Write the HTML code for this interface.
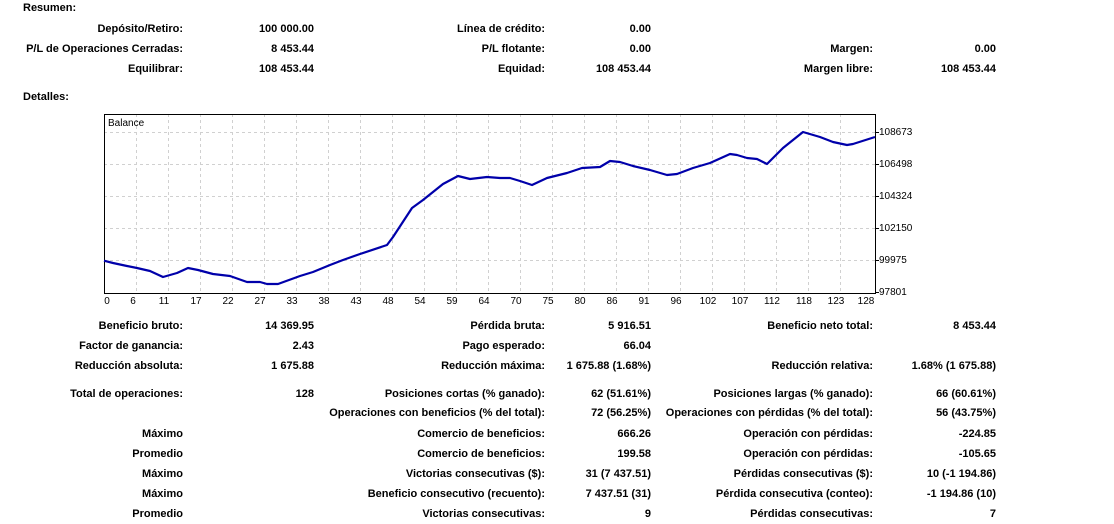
<!DOCTYPE html>
<html><head><meta charset="utf-8"><style>
body{margin:0;width:1114px;height:524px;background:#fff;position:relative;overflow:hidden;font-family:"Liberation Sans",Tahoma,sans-serif;font-weight:bold;font-size:11px;color:#000}
.t{position:absolute;white-space:nowrap;line-height:13px}
svg{position:absolute;left:0;top:0}
svg text{font-family:"Liberation Sans",sans-serif;font-size:10px;font-weight:normal}
</style></head><body>
<div class="t" style="left:23px;top:2px">Resumen:</div>
<div class="t" style="left:23px;top:91px">Detalles:</div>

<div class="t" style="right:931px;top:23px">Depósito/Retiro:</div>
<div class="t" style="right:800px;top:23px">100 000.00</div>
<div class="t" style="right:569px;top:23px">Línea de crédito:</div>
<div class="t" style="right:463px;top:23px">0.00</div>

<div class="t" style="right:931px;top:43px">P/L de Operaciones Cerradas:</div>
<div class="t" style="right:800px;top:43px">8 453.44</div>
<div class="t" style="right:569px;top:43px">P/L flotante:</div>
<div class="t" style="right:463px;top:43px">0.00</div>
<div class="t" style="right:241px;top:43px">Margen:</div>
<div class="t" style="right:118px;top:43px">0.00</div>

<div class="t" style="right:931px;top:63px">Equilibrar:</div>
<div class="t" style="right:800px;top:63px">108 453.44</div>
<div class="t" style="right:569px;top:63px">Equidad:</div>
<div class="t" style="right:463px;top:63px">108 453.44</div>
<div class="t" style="right:241px;top:63px">Margen libre:</div>
<div class="t" style="right:118px;top:63px">108 453.44</div>

<svg width="1114" height="524">
<g stroke="#d0d0d0" stroke-dasharray="3,3" stroke-width="1">
<line x1="104" y1="132.5" x2="875" y2="132.5"/><line x1="104" y1="164.5" x2="875" y2="164.5"/><line x1="104" y1="196.5" x2="875" y2="196.5"/><line x1="104" y1="228.5" x2="875" y2="228.5"/><line x1="104" y1="260.5" x2="875" y2="260.5"/>
<line x1="136.5" y1="114" x2="136.5" y2="293"/><line x1="168.5" y1="114" x2="168.5" y2="293"/><line x1="200.5" y1="114" x2="200.5" y2="293"/><line x1="232.5" y1="114" x2="232.5" y2="293"/><line x1="264.5" y1="114" x2="264.5" y2="293"/><line x1="296.5" y1="114" x2="296.5" y2="293"/><line x1="328.5" y1="114" x2="328.5" y2="293"/><line x1="360.5" y1="114" x2="360.5" y2="293"/><line x1="392.5" y1="114" x2="392.5" y2="293"/><line x1="424.5" y1="114" x2="424.5" y2="293"/><line x1="456.5" y1="114" x2="456.5" y2="293"/><line x1="488.5" y1="114" x2="488.5" y2="293"/><line x1="520.5" y1="114" x2="520.5" y2="293"/><line x1="552.5" y1="114" x2="552.5" y2="293"/><line x1="584.5" y1="114" x2="584.5" y2="293"/><line x1="616.5" y1="114" x2="616.5" y2="293"/><line x1="648.5" y1="114" x2="648.5" y2="293"/><line x1="680.5" y1="114" x2="680.5" y2="293"/><line x1="712.5" y1="114" x2="712.5" y2="293"/><line x1="744.5" y1="114" x2="744.5" y2="293"/><line x1="776.5" y1="114" x2="776.5" y2="293"/><line x1="808.5" y1="114" x2="808.5" y2="293"/><line x1="840.5" y1="114" x2="840.5" y2="293"/>
</g>
<rect x="104.5" y="114.5" width="771" height="179" fill="none" stroke="#000"/>
<g stroke="#000"><line x1="875" y1="132.5" x2="879" y2="132.5"/><line x1="875" y1="164.5" x2="879" y2="164.5"/><line x1="875" y1="196.5" x2="879" y2="196.5"/><line x1="875" y1="228.5" x2="879" y2="228.5"/><line x1="875" y1="260.5" x2="879" y2="260.5"/><line x1="875" y1="292.5" x2="879" y2="292.5"/></g>
<text x="108" y="126">Balance</text>
<polyline fill="none" stroke="#0000aa" stroke-width="2.2" stroke-linejoin="round" points="104,260.7 113,263 127,266 137,268 150,271 163,277 177,273 188,268 198,270 213,274 230,276 247,282 260,282 267,284 278,284 300,276 313,272 330,265 343,260 360,254 387,245 393,237 412,208 423,200 433,192 443,184 458,176 470,179 487,177 500,178 510,178 520,181 532,185 547,178 567,173 582,168 600,167 610,161 620,162 633,166 650,170 667,175 677,174 693,168 710,163 730,154 737,155 747,158 757,159 767,164 783,148 803,132 820,137 833,142 847,145 853,144 875,137"/>
<g>
<text x="879" y="135">108673</text><text x="879" y="167">106498</text><text x="879" y="199">104324</text><text x="879" y="231">102150</text><text x="879" y="263">99975</text><text x="879" y="295">97801</text>
</g>
<g text-anchor="middle">
<text x="107" y="304">0</text><text x="133" y="304">6</text><text x="164" y="304">11</text><text x="196" y="304">17</text><text x="228" y="304">22</text><text x="260" y="304">27</text><text x="292" y="304">33</text><text x="324" y="304">38</text><text x="356" y="304">43</text><text x="388" y="304">48</text><text x="420" y="304">54</text><text x="452" y="304">59</text><text x="484" y="304">64</text><text x="516" y="304">70</text><text x="548" y="304">75</text><text x="580" y="304">80</text><text x="612" y="304">86</text><text x="644" y="304">91</text><text x="676" y="304">96</text><text x="708" y="304">102</text><text x="740" y="304">107</text><text x="772" y="304">112</text><text x="804" y="304">118</text><text x="836" y="304">123</text><text x="866" y="304">128</text>
</g>
</svg>

<div class="t" style="right:931px;top:320px">Beneficio bruto:</div>
<div class="t" style="right:800px;top:320px">14 369.95</div>
<div class="t" style="right:569px;top:320px">Pérdida bruta:</div>
<div class="t" style="right:463px;top:320px">5 916.51</div>
<div class="t" style="right:241px;top:320px">Beneficio neto total:</div>
<div class="t" style="right:118px;top:320px">8 453.44</div>

<div class="t" style="right:931px;top:340px">Factor de ganancia:</div>
<div class="t" style="right:800px;top:340px">2.43</div>
<div class="t" style="right:569px;top:340px">Pago esperado:</div>
<div class="t" style="right:463px;top:340px">66.04</div>

<div class="t" style="right:931px;top:360px">Reducción absoluta:</div>
<div class="t" style="right:800px;top:360px">1 675.88</div>
<div class="t" style="right:569px;top:360px">Reducción máxima:</div>
<div class="t" style="right:463px;top:360px">1 675.88 (1.68%)</div>
<div class="t" style="right:241px;top:360px">Reducción relativa:</div>
<div class="t" style="right:118px;top:360px">1.68% (1 675.88)</div>

<div class="t" style="right:931px;top:388px">Total de operaciones:</div>
<div class="t" style="right:800px;top:388px">128</div>
<div class="t" style="right:569px;top:388px">Posiciones cortas (% ganado):</div>
<div class="t" style="right:463px;top:388px">62 (51.61%)</div>
<div class="t" style="right:241px;top:388px">Posiciones largas (% ganado):</div>
<div class="t" style="right:118px;top:388px">66 (60.61%)</div>

<div class="t" style="right:569px;top:407px">Operaciones con beneficios (% del total):</div>
<div class="t" style="right:463px;top:407px">72 (56.25%)</div>
<div class="t" style="right:241px;top:407px">Operaciones con pérdidas (% del total):</div>
<div class="t" style="right:118px;top:407px">56 (43.75%)</div>

<div class="t" style="right:931px;top:428px">Máximo</div>
<div class="t" style="right:569px;top:428px">Comercio de beneficios:</div>
<div class="t" style="right:463px;top:428px">666.26</div>
<div class="t" style="right:241px;top:428px">Operación con pérdidas:</div>
<div class="t" style="right:118px;top:428px">-224.85</div>

<div class="t" style="right:931px;top:448px">Promedio</div>
<div class="t" style="right:569px;top:448px">Comercio de beneficios:</div>
<div class="t" style="right:463px;top:448px">199.58</div>
<div class="t" style="right:241px;top:448px">Operación con pérdidas:</div>
<div class="t" style="right:118px;top:448px">-105.65</div>

<div class="t" style="right:931px;top:468px">Máximo</div>
<div class="t" style="right:569px;top:468px">Victorias consecutivas ($):</div>
<div class="t" style="right:463px;top:468px">31 (7 437.51)</div>
<div class="t" style="right:241px;top:468px">Pérdidas consecutivas ($):</div>
<div class="t" style="right:118px;top:468px">10 (-1 194.86)</div>

<div class="t" style="right:931px;top:488px">Máximo</div>
<div class="t" style="right:569px;top:488px">Beneficio consecutivo (recuento):</div>
<div class="t" style="right:463px;top:488px">7 437.51 (31)</div>
<div class="t" style="right:241px;top:488px">Pérdida consecutiva (conteo):</div>
<div class="t" style="right:118px;top:488px">-1 194.86 (10)</div>

<div class="t" style="right:931px;top:508px">Promedio</div>
<div class="t" style="right:569px;top:508px">Victorias consecutivas:</div>
<div class="t" style="right:463px;top:508px">9</div>
<div class="t" style="right:241px;top:508px">Pérdidas consecutivas:</div>
<div class="t" style="right:118px;top:508px">7</div>
</body></html>
